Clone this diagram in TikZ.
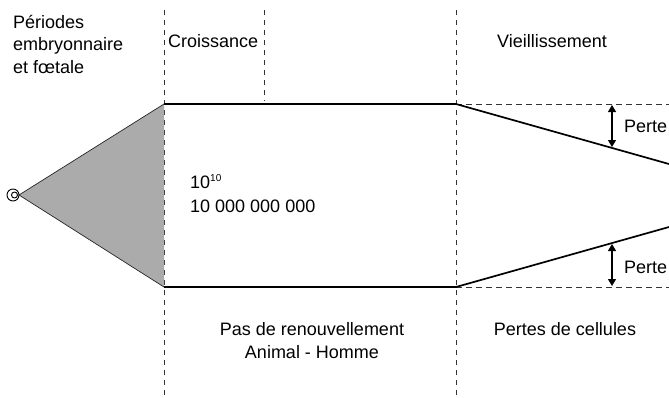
\documentclass[tikz,border=0pt]{standalone}
\usepackage{fontspec}
\setmainfont{Liberation Sans}
\usetikzlibrary{arrows.meta}
\begin{document}
\begin{tikzpicture}[x=1pt,y=-1pt,
  lbl/.style={font=\fontsize{18}{22.5}\selectfont, inner sep=0pt},
  thickline/.style={line width=1.7pt, line join=miter},
  vdash/.style={line width=0.8pt, dash pattern=on 5pt off 5pt, black!80},
  hdash/.style={line width=0.8pt, dash pattern=on 6pt off 4pt, black!80},
  gapArrow/.style={line width=1.1pt, {Triangle[length=7pt,width=8pt]}-{Triangle[length=7pt,width=8pt]}}]
\useasboundingbox (0,0) rectangle (669,397);
% key coordinates
\coordinate (apex) at (19,195);
\coordinate (tl) at (164,104);
\coordinate (bl) at (164,287);
\coordinate (tm) at (456,104);
\coordinate (bm) at (456,287);
\coordinate (tr) at (669,164);
\coordinate (br) at (669,227);
\coordinate (tdr) at (669,104);
\coordinate (bdr) at (669,287);
% vertical dashed lines
\coordinate (v1t) at (164,10); \coordinate (v1b) at (164,397);
\coordinate (v2t) at (264,10); \coordinate (v2b) at (264,101);
\coordinate (v3t) at (456,10); \coordinate (v3b) at (456,397);
\draw[vdash] (v1t) -- (v1b);
\draw[vdash] (v2t) -- (v2b);
\draw[vdash] (v3t) -- (v3b);
% triangle
\fill[black!33] (apex) -- (tl) -- (bl) -- cycle;
\draw[line width=0.7pt, black!85] (tl) -- (apex) -- (bl);
% egg
\coordinate (egg) at (13,195);
\coordinate (eggin) at (14.5,195);
\draw[line width=0.9pt, fill=white] (egg) circle (6);
\draw[line width=0.9pt] (eggin) circle (3);
% horizontal dashed
\draw[hdash] (tm) -- (tdr);
\draw[hdash] (bm) -- (bdr);
% thick lines
\draw[thickline] (tl) -- (tm) -- (tr);
\draw[thickline] (bl) -- (bm) -- (br);
% arrows
\coordinate (a1t) at (612,105);
\coordinate (a1b) at (612,147);
\coordinate (a2t) at (612,244);
\coordinate (a2b) at (612,286);
\draw[gapArrow] (a1t) -- (a1b);
\draw[gapArrow] (a2t) -- (a2b);
% texts
\node[lbl, anchor=base west, align=left] (periodes) at (13,73) {Périodes\\embryonnaire\\et fœtale};
\node[lbl, anchor=base west] (croiss) at (168,47) {Croissance};
\node[lbl, anchor=base west] (vieil) at (497,47) {Vieillissement};
\node[lbl, anchor=base west] (pow) at (190,188) {10\textsuperscript{\fontsize{10}{10}\selectfont 10}};
\node[lbl, anchor=base west] (num) at (190,212) {10 000 000 000};
\node[lbl, anchor=base, align=center] (pas) at (312,358) {Pas de renouvellement\\Animal - Homme};
\node[lbl, anchor=base] (pertes) at (565,335) {Pertes de cellules};
\node[lbl, anchor=base west] (p1) at (624,132) {Perte};
\node[lbl, anchor=base west] (p2) at (624,273) {Perte};
\end{tikzpicture}
\end{document}
